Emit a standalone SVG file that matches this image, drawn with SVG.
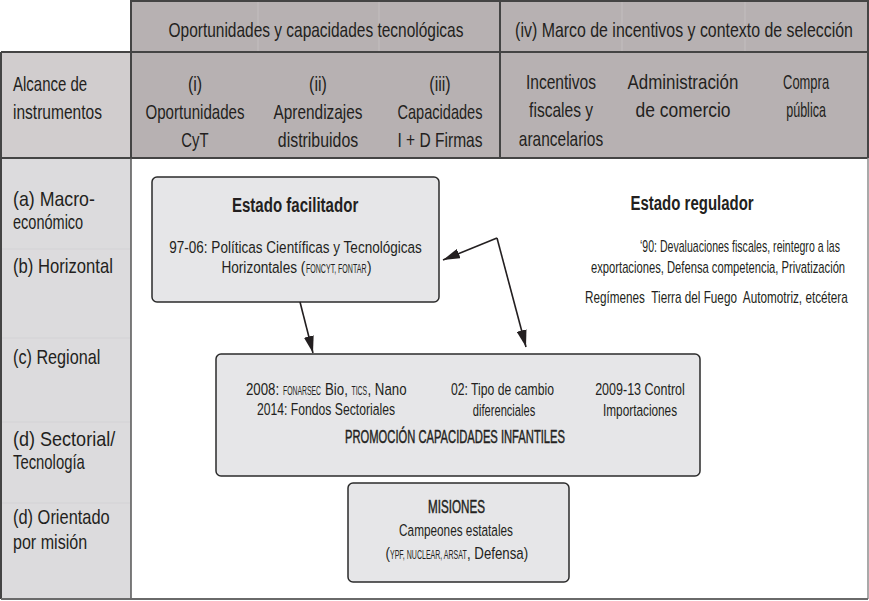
<svg xmlns="http://www.w3.org/2000/svg" width="869" height="601" viewBox="0 0 869 601">
<defs>
<style>
text{font-family:"Liberation Sans",Arial,sans-serif;fill:#231f20;transform-box:fill-box;transform-origin:left center;transform:scaleX(0.78);}
.m{text-anchor:middle;transform-origin:center center;}
.h{font-size:20.5px;}
.l{font-size:20px;}
.b{font-size:17px;}
.r{font-size:16px;}
.t{font-size:21px;font-weight:bold;}
.md{font-size:18px;stroke:#231f20;stroke-width:0.45px;}
.sc{font-size:12.5px;transform:scaleX(0.56);}
.n8{transform:scaleX(0.8);}
.box{fill:#e6e6e8;stroke:#2b2b2b;stroke-width:1.5;}
.grid{stroke:#444;stroke-width:2;fill:none;}
.faint{stroke:#c3bebf;stroke-width:1;}
.faint2{stroke:#d3d2d5;stroke-width:1;}
.conn{stroke:#231f20;stroke-width:1.6;fill:none;marker-end:url(#ah);}
</style>
<marker id="ah" markerUnits="userSpaceOnUse" markerWidth="17" markerHeight="10" refX="17" refY="5" orient="auto">
<path d="M0,0 L17,5 L0,10 Z" fill="#231f20"/>
</marker>
</defs>
<rect width="869" height="601" fill="#ffffff"/>
<g id="table">
<rect x="131" y="1" width="737" height="51" fill="#b7b1b2"/>
<rect x="131" y="52" width="737" height="106" fill="#b7b1b2"/>
<rect x="1" y="52" width="130" height="106" fill="#d1cdce"/>
<rect x="1" y="158" width="130" height="441" fill="#dcdbdd"/>
<line class="faint" x1="258" y1="2" x2="258" y2="51"/>
<line class="faint" x1="379" y1="2" x2="379" y2="51"/>
<line class="faint" x1="622" y1="2" x2="622" y2="51"/>
<line class="faint" x1="745" y1="2" x2="745" y2="51"/>
<line class="faint2" x1="2" y1="249" x2="130" y2="249"/>
<line class="faint2" x1="2" y1="338" x2="130" y2="338"/>
<line class="faint2" x1="2" y1="422" x2="130" y2="422"/>
<line class="faint2" x1="2" y1="503" x2="130" y2="503"/>
<path class="grid" d="M131,158 V1 H868 V158 M1,52 H868 M1,158 H868 M500,1 V158 M1,52 V599"/>
<line x1="131" y1="158" x2="131" y2="599" stroke="#555" stroke-width="1.5"/>
<line x1="868" y1="158" x2="868" y2="599" stroke="#8c8c8c" stroke-width="1.5"/>
<line x1="1" y1="599" x2="868" y2="599" stroke="#6a6a6a" stroke-width="2"/>
<text class="h m" x="316" y="37" textLength="378" lengthAdjust="spacingAndGlyphs">Oportunidades y capacidades tecnológicas</text>
<text class="h m" x="684" y="37" textLength="433" lengthAdjust="spacingAndGlyphs">(iv) Marco de incentivos y contexto de selección</text>
<text class="h" x="13" y="91" textLength="95" lengthAdjust="spacingAndGlyphs">Alcance de</text>
<text class="h" x="13" y="119" textLength="114" lengthAdjust="spacingAndGlyphs">instrumentos</text>
<text class="h m" x="195" y="91">(i)</text>
<text class="h m" x="195" y="119" textLength="127" lengthAdjust="spacingAndGlyphs">Oportunidades</text>
<text class="h m" x="195" y="147" textLength="35" lengthAdjust="spacingAndGlyphs">CyT</text>
<text class="h m" x="318" y="91">(ii)</text>
<text class="h m" x="318" y="119" textLength="114" lengthAdjust="spacingAndGlyphs">Aprendizajes</text>
<text class="h m" x="318" y="147" textLength="103" lengthAdjust="spacingAndGlyphs">distribuidos</text>
<text class="h m" x="440" y="91">(iii)</text>
<text class="h m" x="440" y="119" textLength="109" lengthAdjust="spacingAndGlyphs">Capacidades</text>
<text class="h m" x="440" y="147" textLength="109" lengthAdjust="spacingAndGlyphs">I + D Firmas</text>
<text class="h m" x="561" y="89" textLength="90" lengthAdjust="spacingAndGlyphs">Incentivos</text>
<text class="h m" x="561" y="117" textLength="82" lengthAdjust="spacingAndGlyphs">fiscales y</text>
<text class="h m" x="561" y="146" textLength="108" lengthAdjust="spacingAndGlyphs">arancelarios</text>
<text class="h m" x="683" y="89" textLength="142" lengthAdjust="spacingAndGlyphs">Administración</text>
<text class="h m" x="683" y="117" textLength="122" lengthAdjust="spacingAndGlyphs">de comercio</text>
<text class="h m" x="806" y="89" textLength="59" lengthAdjust="spacingAndGlyphs">Compra</text>
<text class="h m" x="806" y="117" textLength="51" lengthAdjust="spacingAndGlyphs">pública</text>
<text class="l" x="13" y="206" textLength="105" lengthAdjust="spacingAndGlyphs">(a) Macro-</text>
<text class="l" x="13" y="229" textLength="90" lengthAdjust="spacingAndGlyphs">económico</text>
<text class="l" x="13" y="273" textLength="128" lengthAdjust="spacingAndGlyphs">(b) Horizontal</text>
<text class="l" x="13" y="364" textLength="112" lengthAdjust="spacingAndGlyphs">(c) Regional</text>
<text class="l" x="13" y="446" textLength="131" lengthAdjust="spacingAndGlyphs">(d) Sectorial/</text>
<text class="l" x="13" y="469" textLength="92" lengthAdjust="spacingAndGlyphs">Tecnología</text>
<text class="l" x="13" y="524" textLength="124" lengthAdjust="spacingAndGlyphs">(d) Orientado</text>
<text class="l" x="13" y="549" textLength="95" lengthAdjust="spacingAndGlyphs">por misión</text>
</g>
<g id="estado-facilitador">
<rect class="box" x="152" y="177" width="287" height="125" rx="5"/>
<text class="t m" x="295" y="212" textLength="162" lengthAdjust="spacingAndGlyphs">Estado facilitador</text>
<text class="b m" x="295.5" y="253" textLength="324" lengthAdjust="spacingAndGlyphs">97-06: Políticas Científicas y Tecnológicas</text>
<text class="b n8" x="221.5" y="273">Horizontales (</text>
<text class="sc" x="306" y="273" textLength="108" lengthAdjust="spacingAndGlyphs">FONCYT, FONTAR</text>
<text class="b n8" x="367" y="273">)</text>
</g>
<g id="estado-regulador">
<text class="t m" x="692" y="210" textLength="158" lengthAdjust="spacingAndGlyphs">Estado regulador</text>
<text class="r" x="640" y="252" textLength="303" lengthAdjust="spacingAndGlyphs" style="transform:scaleX(0.66)">‘90: Devaluaciones fiscales, reintegro a las</text>
<text class="r" x="591" y="273" textLength="363" lengthAdjust="spacingAndGlyphs" style="transform:scaleX(0.7)">exportaciones, Defensa competencia, Privatización</text>
<text class="r" x="585" y="303" textLength="360" lengthAdjust="spacingAndGlyphs" style="transform:scaleX(0.73)">Regímenes&#160; Tierra del Fuego&#160; Automotriz, etcétera</text>
</g>
<g id="promocion">
<rect class="box" x="216" y="354" width="484" height="122" rx="5"/>
<text class="b" x="246" y="395">2008:</text>
<text class="sc" x="283" y="395" textLength="68" lengthAdjust="spacingAndGlyphs">FONARSEC</text>
<text class="b" x="325" y="395">Bio,</text>
<text class="sc" x="351.5" y="395" textLength="28" lengthAdjust="spacingAndGlyphs">TICS</text>
<text class="b" x="367.5" y="395">, Nano</text>
<text class="b m" x="326" y="415" textLength="177" lengthAdjust="spacingAndGlyphs">2014: Fondos Sectoriales</text>
<text class="b m" x="502.5" y="395" textLength="132" lengthAdjust="spacingAndGlyphs">02: Tipo de cambio</text>
<text class="b m" x="504" y="416" textLength="80" lengthAdjust="spacingAndGlyphs">diferenciales</text>
<text class="b m" x="640" y="395" textLength="115" lengthAdjust="spacingAndGlyphs">2009-13 Control</text>
<text class="b m" x="640" y="416" textLength="95" lengthAdjust="spacingAndGlyphs">Importaciones</text>
<text class="md m" x="455" y="443" textLength="282" lengthAdjust="spacingAndGlyphs">PROMOCIÓN CAPACIDADES INFANTILES</text>
</g>
<g id="misiones">
<rect class="box" x="348" y="483" width="221" height="99" rx="5"/>
<text class="md m" x="456.5" y="513" textLength="73" lengthAdjust="spacingAndGlyphs">MISIONES</text>
<text class="b m" x="456" y="536" textLength="146" lengthAdjust="spacingAndGlyphs">Campeones estatales</text>
<text class="b" x="385.5" y="559">(</text>
<text class="sc" x="390" y="559" textLength="137" lengthAdjust="spacingAndGlyphs">YPF, NUCLEAR, ARSAT</text>
<text class="b" x="467" y="559">, Defensa)</text>
</g>
<g id="connectors">
<line class="conn" x1="497" y1="238" x2="443" y2="260"/>
<line class="conn" x1="497" y1="238" x2="526" y2="347"/>
<line class="conn" x1="300" y1="302" x2="313" y2="353"/>
</g>
</svg>
